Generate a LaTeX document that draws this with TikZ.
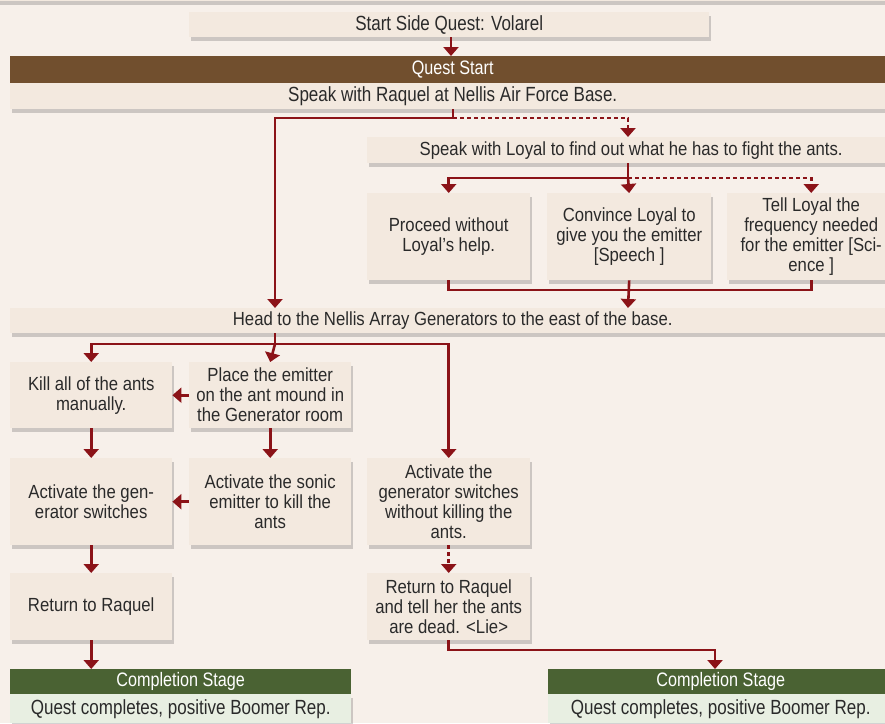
\documentclass[tikz,border=0pt]{standalone}
\usepackage{fontspec}
\setmainfont{Liberation Sans}
\newfontfamily\bodyf[FakeStretch=0.88]{Liberation Sans}
\newfontfamily\headf[FakeStretch=0.83]{Liberation Sans}
\usetikzlibrary{arrows.meta,shadows,calc}
\definecolor{bgc}{HTML}{F7F0EA}
\definecolor{boxc}{HTML}{F3E9DF}
\definecolor{qbrown}{HTML}{714F2E}
\definecolor{qgreen}{HTML}{4A6233}
\definecolor{qgreenbody}{HTML}{E8EFE2}
\definecolor{arrc}{HTML}{8B1318}
\definecolor{txtc}{HTML}{2A2A2A}
\tikzset{
  boxsh/.style={drop shadow={shadow xshift=2pt,shadow yshift=-4pt,opacity=0.25,fill=black!70}},
  box/.style={fill=boxc, text=txtc, align=center, anchor=north west, inner sep=1pt,
    font=\bodyf\fontsize{19}{20}\selectfont, boxsh},
  hbox/.style={box, font=\headf\fontsize{20.5}{22}\selectfont},
  hdr/.style={anchor=north west, inner sep=1pt, text=white, font=\headf\fontsize{19.5}{21}\selectfont},
  conn/.style={draw=arrc, line width=2.6pt},
  tip/.style={conn, -{Triangle[width=15pt,length=9pt]}},
  dconn/.style={conn, dash pattern=on 4pt off 3pt},
  dtip/.style={tip, dash pattern=on 4pt off 3pt},
}
\begin{document}
\begin{tikzpicture}[x=1pt,y=-1pt]
\fill[bgc] (0,0) rectangle (885,723);
\useasboundingbox (0,0) rectangle (885,723);
% cut-off box above
\node[box, minimum width=900, minimum height=12] (topband) at (-8,-11) {};
% start
\node[hbox, minimum width=520, minimum height=25] (start) at (189,12) {Start Side Quest: Volarel};
\node[hdr, fill=qbrown, minimum width=885, minimum height=27] (qh) at (10,56) {Quest Start};
\node[hbox, minimum width=885, minimum height=26] (qb) at (10,83) {Speak with Raquel at Nellis Air Force Base.};
% loyal
\node[box, minimum width=528, minimum height=26] (loyal) at (367,137) {Speak with Loyal to find out what he has to fight the ants.};
\node[box, minimum width=163, minimum height=87] (proceed) at (367,193) {Proceed without\\Loyal’s help.};
\node[box, minimum width=164, minimum height=87] (convince) at (547,193) {Convince Loyal to\\give you the emitter\\{[}Speech {]}};
\node[box, minimum width=168, minimum height=87] (tell) at (727,193) {Tell Loyal the\\frequency needed\\for the emitter {[}Sci-\\ence {]}};
% head
\node[box, minimum width=885, minimum height=25] (head) at (10,308) {Head to the Nellis Array Generators to the east of the base.};
% rows
\node[box, minimum width=162, minimum height=66] (kill) at (10,362) {Kill all of the ants\\manually.};
\node[box, minimum width=162, minimum height=66] (place) at (189,362) {Place the emitter\\on the ant mound in\\the Generator room};
\node[box, minimum width=162, minimum height=87] (actgen) at (10,458) {Activate the gen-\\erator switches};
\node[box, minimum width=162, minimum height=87] (sonic) at (189,458) {Activate the sonic\\emitter to kill the\\ants};
\node[box, minimum width=163, minimum height=87] (without) at (367,458) {Activate the\\generator switches\\without killing the\\ants.};
\node[box, minimum width=162, minimum height=67] (ret1) at (10,573) {Return to Raquel};
\node[box, minimum width=163, minimum height=67] (ret2) at (367,573) {Return to Raquel\\and tell her the ants\\are dead. <Lie>};
% completion
\node[hdr, fill=qgreen, minimum width=341, minimum height=25] (c1h) at (10,669) {Completion Stage};
\node[hbox, fill=qgreenbody, minimum width=341, minimum height=29] (c1b) at (10,694) {Quest completes, positive Boomer Rep.};
\node[hdr, fill=qgreen, minimum width=345, minimum height=25] (c2h) at (548,669) {Completion Stage};
\node[hbox, fill=qgreenbody, minimum width=345, minimum height=29] (c2b) at (548,694) {Quest completes, positive Boomer Rep.};

% connectors
\coordinate (j1) at (453,118);
\coordinate (j2) at (628,178);
\coordinate (j3) at (628,290);
\coordinate (j4) at (275,344);
\coordinate (j5) at (453,650);
\draw[tip] (start.south -| 451,0) -- (qh.north -| 451,0);
\draw[conn] (qb.south -| j1) -- (j1);
\draw[tip] (j1) -| (head.north -| j4);
\draw[dtip] (j1) -| (loyal.north -| j2);
\draw[conn] (loyal.south -| j2) -- (j2);
\draw[tip] (j2) -| (proceed.north);
\draw[tip] (j2) -- (convince.north);
\draw[dtip] (j2) -| (tell.north);
\draw[conn] (proceed.south) |- (j3);
\draw[conn] (tell.south) |- (j3);
\draw[tip] (convince.south) -- (head.north -| j3);
\draw[conn] (head.south -| j4) -- (j4);
\draw[tip] (j4) -| (kill.north);
\draw[tip] (j4) -- (place.north);
\draw[tip] (j4) -| (without.north);
\draw[tip] (place.west) -- (kill.east);
\draw[tip] (sonic.west) -- (actgen.east);
\draw[tip] (kill.south) -- (actgen.north);
\draw[tip] (place.south) -- (sonic.north);
\draw[tip] (actgen.south) -- (ret1.north);
\draw[dtip] (without.south) -- (ret2.north);
\draw[tip] (ret1.south) -- (c1h.north -| ret1.south);
\draw[tip] (ret2.south) |- (j5) -| (c2h.north -| 715,0);
\end{tikzpicture}
\end{document}
